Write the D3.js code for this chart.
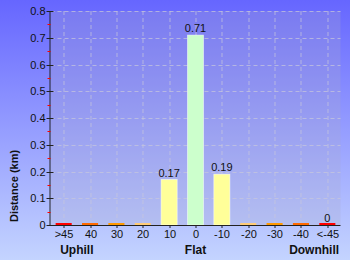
<!DOCTYPE html>
<html>
<head>
<meta charset="utf-8">
<script src="https://cdn.jsdelivr.net/npm/d3@7"></script>
<style>
  body { margin: 0; }
  svg { display: block; font-family: "Liberation Sans", Arial, sans-serif; }
</style>
</head>
<body>
<div id="frame"></div>
<script>
// data
let categories = [">45", "40", "30", "20", "10", "0", "-10", "-20", "-30", "-40", "<-45"];
let distances = [0, 0, 0, 0, 0.17, 0.71, 0.19, 0, 0, 0, 0];
let valueLabels = ["", "", "", "", "0.17", "0.71", "0.19", "", "", "", "0"];
let barColors = ["#ff0000", "#ff6a00", "#ff9900", "#ffcc77", "#ffff99", "#ccffcc", "#ffff99", "#ffcc77", "#ff9900", "#ff6a00", "#ff0000"];
let yTicks = [0, 0.1, 0.2, 0.3, 0.4, 0.5, 0.6, 0.7, 0.8];
let yMinor = [0.05, 0.15, 0.25, 0.35, 0.45, 0.55, 0.65, 0.75];
let groups = [
    { name: "Uphill", from: ">45", to: "40" },
    { name: "Flat", from: "0", to: "0" },
    { name: "Downhill", from: "-40", to: "<-45" }
];

//Dimensions
let W = 350, H = 260;
let margin = { top: 11, right: 9.5, bottom: 35, left: 50.5 },
    width = W - margin.left - margin.right,
    height = H - margin.top - margin.bottom;

let svg = d3.select('#frame')
    .append('svg')
    .attr('width', W)
    .attr('height', H);

// gradients
let defs = svg.append('defs');
let bg = defs.append('linearGradient').attr('id', 'bg').attr('x1', 0).attr('y1', 0).attr('x2', 0).attr('y2', 1);
bg.append('stop').attr('offset', '0%').attr('stop-color', '#6666ff');
bg.append('stop').attr('offset', '100%').attr('stop-color', '#c4d4ff');

svg.append('rect').attr('width', W).attr('height', H).attr('fill', 'url(#bg)');

let g = svg.append('g')
    .attr('transform', 'translate(' + margin.left + ',' + margin.top + ')');

// plot area
g.append('rect')
    .attr('width', width)
    .attr('height', height)
    .attr('fill', 'rgb(170,170,200)')
    .attr('fill-opacity', 0.25);

//scales
let x = d3.scaleBand()
    .domain(categories)
    .range([0, width])
    .paddingInner(0.39)
    .paddingOuter(0.195);

let y = d3.scaleLinear()
    .domain([0, 0.8])
    .range([height, 0]);

let cx = d => x(d) + x.bandwidth() / 2;

// grid
g.append('g')
    .selectAll('line')
    .data(yTicks.slice(1))
    .enter()
    .append('line')
    .attr('x1', 0).attr('x2', width)
    .attr('y1', d => Math.round(y(d)) + 0.5).attr('y2', d => Math.round(y(d)) + 0.5)
    .attr('stroke', '#c8c8dc').attr('stroke-opacity', 0.7).attr('stroke-dasharray', '4,3');

g.append('g')
    .selectAll('line')
    .data(categories)
    .enter()
    .append('line')
    .attr('x1', d => Math.round(cx(d)) + 0.5)
    .attr('x2', d => Math.round(cx(d)) + 0.5)
    .attr('y1', 0).attr('y2', height)
    .attr('stroke', '#c8c8dc').attr('stroke-opacity', 0.7).attr('stroke-dasharray', '4,3');

// bars (zero values still show as a thin strip)
g.append('g')
    .selectAll('rect')
    .data(categories)
    .enter()
    .append('rect')
    .attr('x', d => x(d))
    .attr('width', x.bandwidth())
    .attr('y', (d, i) => Math.min(y(distances[i]), height - 2))
    .attr('height', (d, i) => Math.max(height - y(distances[i]), 2))
    .attr('fill', (d, i) => barColors[i])
    .attr('stroke', (d, i) => distances[i] > 0 ? 'rgba(255,255,255,0.6)' : 'none')
    .attr('stroke-width', 0.8);

// value labels
g.append('g')
    .selectAll('text')
    .data(categories)
    .enter()
    .append('text')
    .attr('x', d => cx(d))
    .attr('y', (d, i) => y(distances[i]) - 3)
    .attr('text-anchor', 'middle')
    .style('font-size', '11px')
    .style('fill', '#111')
    .text((d, i) => valueLabels[i]);

// y axis
g.append('line')
    .attr('x1', -0.5).attr('x2', -0.5)
    .attr('y1', 0).attr('y2', height)
    .attr('stroke', '#222');

g.append('g')
    .selectAll('line')
    .data(yMinor)
    .enter()
    .append('line')
    .attr('x1', -3).attr('x2', 0)
    .attr('y1', d => Math.round(y(d)) + 0.5).attr('y2', d => Math.round(y(d)) + 0.5)
    .attr('stroke', '#ff0000');

let yt = g.append('g')
    .selectAll('g')
    .data(yTicks)
    .enter()
    .append('g')
    .attr('transform', d => 'translate(0,' + (Math.round(y(d)) + 0.5) + ')');
yt.append('line').attr('x1', -4).attr('x2', 3).attr('stroke', '#222');
yt.append('text')
    .attr('x', -5)
    .attr('dy', '0.36em')
    .attr('text-anchor', 'end')
    .style('font-size', '11px')
    .style('fill', '#111')
    .text(d => d === 0 ? '0' : d.toFixed(1));

// x axis
g.append('line')
    .attr('x1', 0).attr('x2', width)
    .attr('y1', height + 0.5).attr('y2', height + 0.5)
    .attr('stroke', '#222');

let xt = g.append('g')
    .selectAll('g')
    .data(categories)
    .enter()
    .append('g')
    .attr('transform', d => 'translate(' + (Math.round(cx(d)) + 0.5) + ',' + height + ')');
xt.append('line').attr('y1', 0).attr('y2', 3).attr('stroke', '#222');
xt.append('text')
    .attr('y', 13)
    .attr('text-anchor', 'middle')
    .style('font-size', '11px')
    .style('fill', '#111')
    .text(d => d);

// group labels under the axis
g.append('g')
    .selectAll('text')
    .data(groups)
    .enter()
    .append('text')
    .attr('x', d => (cx(d.from) + cx(d.to)) / 2)
    .attr('y', height + 29)
    .attr('text-anchor', 'middle')
    .style('font-size', '12px')
    .style('font-weight', 'bold')
    .style('fill', '#111')
    .text(d => d.name);

// y title
svg.append('text')
    .attr('transform', 'translate(18,222) rotate(-90)')
    .attr('text-anchor', 'start')
    .style('font-size', '11px')
    .style('font-weight', 'bold')
    .style('fill', '#111')
    .text('Distance (km)');
</script>
</body>
</html>
